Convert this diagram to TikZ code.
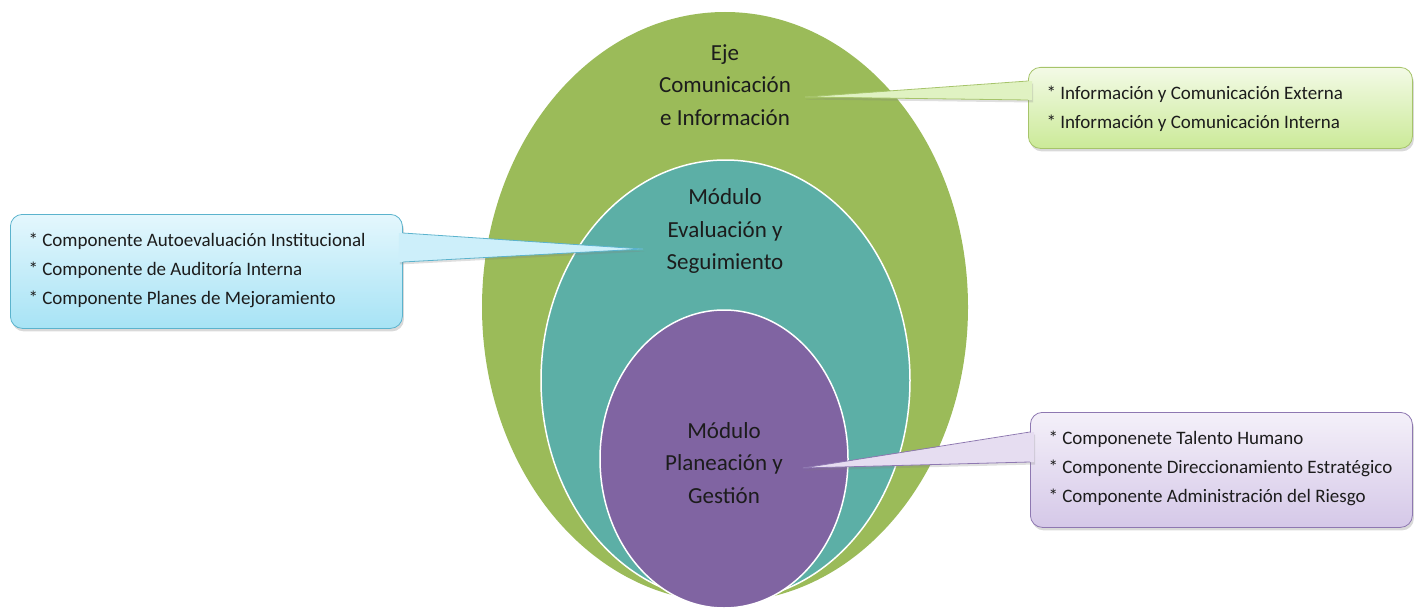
\documentclass[tikz,border=0pt]{standalone}
\usepackage{fontspec}
\setmainfont{Carlito}
\usetikzlibrary{shapes.geometric,shadows,calc}

\definecolor{verde}{HTML}{9BBB59}
\definecolor{turquesa}{HTML}{5CAFA6}
\definecolor{morado}{HTML}{8064A2}
\definecolor{texto}{HTML}{1C1C1C}
\definecolor{verdeA}{HTML}{F3FAE6}
\definecolor{verdeB}{HTML}{CBEA98}
\definecolor{verdeC}{HTML}{E0F2C2}
\definecolor{verdeD}{HTML}{A6C46A}
\definecolor{azulA}{HTML}{E4F7FD}
\definecolor{azulB}{HTML}{A7E3F5}
\definecolor{azulC}{HTML}{CDEFFA}
\definecolor{azulD}{HTML}{5BB3CD}
\definecolor{moradoA}{HTML}{F4F0F9}
\definecolor{moradoB}{HTML}{D5C8E8}
\definecolor{moradoC}{HTML}{E6DDF1}
\definecolor{moradoD}{HTML}{8E78B1}

\begin{document}
\begin{tikzpicture}[x=1pt,y=-1pt]
  \tikzset{
    anillo/.style={ellipse, inner sep=0pt, draw=white, line width=1.5pt},
    titulo/.style={align=center, text=texto, font=\fontsize{23}{32.5}\selectfont},
    caja/.style={rectangle, rounded corners=12pt, line width=0.8pt, inner sep=0pt, anchor=north west,
      drop shadow={opacity=0.3, shadow xshift=1.5pt, shadow yshift=-3pt}},
    lista/.style={align=left, anchor=west, text=texto, font=\fontsize{19}{29}\selectfont},
    cuna/.style={line width=0.8pt, line join=round}
  }
  \useasboundingbox (0,0) rectangle (1414,610);

  \node[anillo, draw=none, fill=verde, minimum width=486pt, minimum height=590pt] (eje) at (725,307) {};
  \node[anillo, fill=turquesa, minimum width=369pt, minimum height=441pt] (seg) at (725.5,380.5) {};
  \node[anillo, fill=morado, minimum width=248pt, minimum height=298pt] (pla) at (724,459) {};

  \node[titulo] (ejetxt) at (725,85) {Eje\\Comunicación\\e Información};
  \node[titulo] (segtxt) at (725,231) {Módulo\\Evaluación y\\Seguimiento};
  \node[titulo] (platxt) at (724,463) {Módulo\\Planeación y\\Gestión};

  \node[caja, draw=verdeD, top color=verdeA, bottom color=verdeB,
    minimum width=384pt, minimum height=81pt] (cajaext) at (1028,67) {};
  \node[caja, draw=azulD, top color=azulA, bottom color=azulB,
    minimum width=392pt, minimum height=114pt] (cajaeval) at (10,214) {};
  \node[caja, draw=moradoD, top color=moradoA, bottom color=moradoB,
    minimum width=382pt, minimum height=115pt] (cajapla) at (1030,412) {};

  \coordinate (pext) at (805,97);
  \coordinate (pext1) at ($(cajaext.north west)+(0,14)$);
  \coordinate (pext2) at ($(cajaext.north west)+(0,33)$);
  \fill[verdeC, drop shadow={opacity=0.25, shadow xshift=1pt, shadow yshift=-2.5pt}]
    (pext) -- ($(pext1)+(4,0)$) -- ($(pext2)+(4,0)$) -- cycle;
  \draw[cuna, draw=verdeD] (pext1) -- (pext) -- (pext2);

  \coordinate (peval) at (643,249);
  \coordinate (peval1) at ($(cajaeval.north east)+(0,19)$);
  \coordinate (peval2) at ($(cajaeval.north east)+(0,48)$);
  \fill[azulC, drop shadow={opacity=0.25, shadow xshift=1pt, shadow yshift=-2.5pt}]
    (peval) -- ($(peval1)+(-4,0)$) -- ($(peval2)+(-4,0)$) -- cycle;
  \draw[cuna, draw=azulD] (peval1) -- (peval) -- (peval2);

  \coordinate (ppla) at (803,468);
  \coordinate (ppla1) at ($(cajapla.north west)+(0,20)$);
  \coordinate (ppla2) at ($(cajapla.north west)+(0,50)$);
  \fill[moradoC, drop shadow={opacity=0.25, shadow xshift=1pt, shadow yshift=-2.5pt}]
    (ppla) -- ($(ppla1)+(4,0)$) -- ($(ppla2)+(4,0)$) -- cycle;
  \draw[cuna, draw=moradoD] (ppla1) -- (ppla) -- (ppla2);

  \node[lista] (listaext) at (1043,108.5) {* Información y Comunicación Externa\\* Información y Comunicación Interna};
  \node[lista] (listaeval) at (25,270.5) {* Componente Autoevaluación Institucional\\* Componente de Auditoría Interna\\* Componente Planes de Mejoramiento};
  \node[lista] (listapla) at (1045,468.5) {* Componenete Talento Humano\\* Componente Direccionamiento Estratégico\\* Componente Administración del Riesgo};
\end{tikzpicture}
\end{document}
